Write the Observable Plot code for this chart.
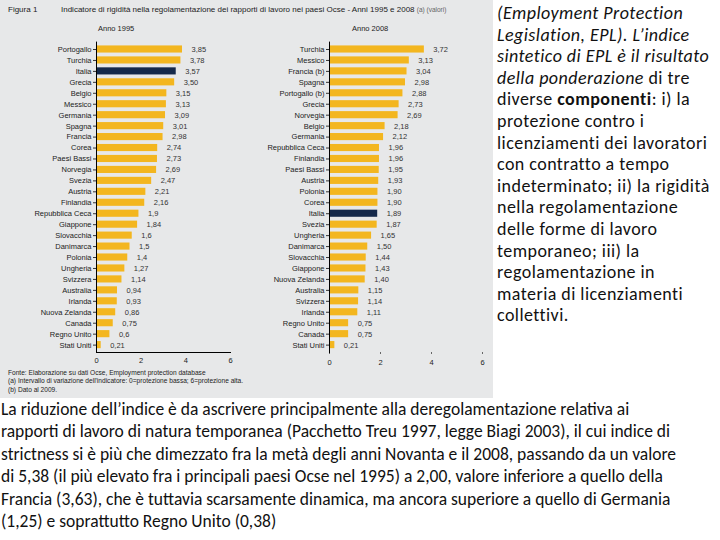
<!DOCTYPE html>
<html>
<head>
<meta charset="utf-8">
<script src="https://cdn.jsdelivr.net/npm/d3@7"></script>
<script src="https://cdn.jsdelivr.net/npm/@observablehq/plot@0.6"></script>
<style>
  body { margin:0; width:720px; height:540px; position:relative; background:#fff; overflow:hidden; }
  #panel { position:absolute; left:0; top:0; width:493px; height:398px; background:#e7e8e9; font-family:"Liberation Sans", Arial, sans-serif; color:#222; }
  .abs { position:absolute; white-space:nowrap; }
  .chart { position:absolute; top:0; }
  #side, #bottom { font-family: Carlito, Lato, "Open Sans", sans-serif; color:#111; }
  #side { position:absolute; left:497px; top:3px; font-size:18px; line-height:21.6px; letter-spacing:0.45px; }
  #bottom { position:absolute; left:1px; top:398px; font-size:17.5px; line-height:22.4px; }
  .ln { white-space:nowrap; }
</style>
</head>
<body>
<div id="panel">
  <div class="abs" style="left:8px;top:5px;font-size:8px;">Figura 1</div>
  <div class="abs" style="left:61px;top:5px;font-size:8px;">Indicatore di rigidità nella regolamentazione dei rapporti di lavoro nei paesi Ocse - Anni 1995 e 2008 <span style="font-size:6.5px;color:#666">(a) (valori)</span></div>
  <div class="abs" style="left:98px;top:24px;font-size:7.5px;">Anno 1995</div>
  <div class="abs" style="left:352px;top:24px;font-size:7.5px;">Anno 2008</div>
  <div id="c1" class="chart" style="left:0px"></div>
  <div id="c2" class="chart" style="left:240px"></div>
  <div class="abs" style="left:8px;top:369px;font-size:6.6px;line-height:8.3px;">Fonte: Elaborazione su dati Ocse, Employment protection database<br>(a) Intervallo di variazione dell'indicatore: 0=protezione bassa; 6=protezione alta.<br>(b) Dato al 2009.</div>
</div>
<div id="side">
  <div class="ln"><i>(Employment Protection</i></div>
  <div class="ln"><i>Legislation, EPL). L’indice</i></div>
  <div class="ln"><i>sintetico di EPL è il risultato</i></div>
  <div class="ln"><i>della ponderazione</i> di tre</div>
  <div class="ln">diverse <b>componenti</b>: i) la</div>
  <div class="ln">protezione contro i</div>
  <div class="ln">licenziamenti dei lavoratori</div>
  <div class="ln">con contratto a tempo</div>
  <div class="ln">indeterminato; ii) la rigidità</div>
  <div class="ln">nella regolamentazione</div>
  <div class="ln">delle forme di lavoro</div>
  <div class="ln">temporaneo; iii) la</div>
  <div class="ln">regolamentazione in</div>
  <div class="ln">materia di licenziamenti</div>
  <div class="ln">collettivi.</div>
</div>
<div id="bottom">
  <div class="ln">La riduzione dell’indice è da ascrivere principalmente alla deregolamentazione relativa ai</div>
  <div class="ln">rapporti di lavoro di natura temporanea (Pacchetto Treu 1997, legge Biagi 2003), il cui indice di</div>
  <div class="ln">strictness si è più che dimezzato fra la metà degli anni Novanta e il 2008, passando da un valore</div>
  <div class="ln">di 5,38 (il più elevato fra i principali paesi Ocse nel 1995) a 2,00, valore inferiore a quello della</div>
  <div class="ln">Francia (3,63), che è tuttavia scarsamente dinamica, ma ancora superiore a quello di Germania</div>
  <div class="ln">(1,25) e soprattutto Regno Unito (0,38)</div>
</div>
<script>
const countries1995 = ["Portogallo","Turchia","Italia","Grecia","Belgio","Messico","Germania","Spagna","Francia","Corea","Paesi Bassi","Norvegia","Svezia","Austria","Finlandia","Repubblica Ceca","Giappone","Slovacchia","Danimarca","Polonia","Ungheria","Svizzera","Australia","Irlanda","Nuova Zelanda","Canada","Regno Unito","Stati Uniti"];
const values1995 = [3.85,3.78,3.57,3.50,3.15,3.13,3.09,3.01,2.98,2.74,2.73,2.69,2.47,2.21,2.16,1.9,1.84,1.6,1.5,1.4,1.27,1.14,0.94,0.93,0.86,0.75,0.6,0.21];
const labels1995 = ["3,85","3,78","3,57","3,50","3,15","3,13","3,09","3,01","2,98","2,74","2,73","2,69","2,47","2,21","2,16","1,9","1,84","1,6","1,5","1,4","1,27","1,14","0,94","0,93","0,86","0,75","0,6","0,21"];

const countries2008 = ["Turchia","Messico","Francia (b)","Spagna","Portogallo (b)","Grecia","Norvegia","Belgio","Germania","Repubblica Ceca","Finlandia","Paesi Bassi","Austria","Polonia","Corea","Italia","Svezia","Ungheria","Danimarca","Slovacchia","Giappone","Nuova Zelanda","Australia","Svizzera","Irlanda","Regno Unito","Canada","Stati Uniti"];
const values2008 = [3.72,3.13,3.04,2.98,2.88,2.73,2.69,2.18,2.12,1.96,1.96,1.95,1.93,1.90,1.90,1.89,1.87,1.65,1.50,1.44,1.43,1.40,1.15,1.14,1.11,0.75,0.75,0.21];
const labels2008 = values2008.map(v => v.toFixed(2).replace(".", ","));

const xTicks = [0, 2, 4, 6];
const yellow = "#f3b61f";
const navy = "#15294a";
const highlight = "Italia";

function chart(countries, values, labels, opts) {
  const data = countries.map((c, i) => ({c, v: values[i], label: labels[i]}));
  return Plot.plot({
    width: opts.width, height: 372,
    marginLeft: opts.marginLeft, marginRight: opts.marginRight,
    marginTop: 41.6, marginBottom: 20,
    style: {background: "transparent", fontFamily: "'Liberation Sans', Arial, sans-serif", fontSize: "7.5px", color: "#222"},
    x: {domain: [0, 6], label: null},
    y: {domain: countries, padding: 0.35, round: false, label: null},
    marks: [
      Plot.barX(data, {x: "v", y: "c", fill: d => d.c === highlight ? navy : yellow}),
      Plot.text(data, {x: "v", y: "c", text: "label", dx: 9, textAnchor: "start", fill: "#333", fontSize: 7.5}),
      Plot.axisY({tickSize: 3, tickPadding: 2, stroke: "#333"}),
      Plot.axisX({ticks: xTicks, tickSize: opts.xTickSize, tickPadding: 5, tickFormat: d => String(d), stroke: "#666"}),
      Plot.frame({anchor: "left", stroke: "#000"}),
      ...(opts.baseline ? [Plot.frame({anchor: "bottom", stroke: "#000"})] : [])
    ]
  });
}

document.getElementById("c1").append(chart(countries1995, values1995, labels1995,
  {width: 250, marginLeft: 96, marginRight: 20, xTickSize: 0, baseline: true}));
document.getElementById("c2").append(chart(countries2008, values2008, labels2008,
  {width: 252, marginLeft: 89, marginRight: 10, xTickSize: 2, baseline: false}));
</script>
</body>
</html>
